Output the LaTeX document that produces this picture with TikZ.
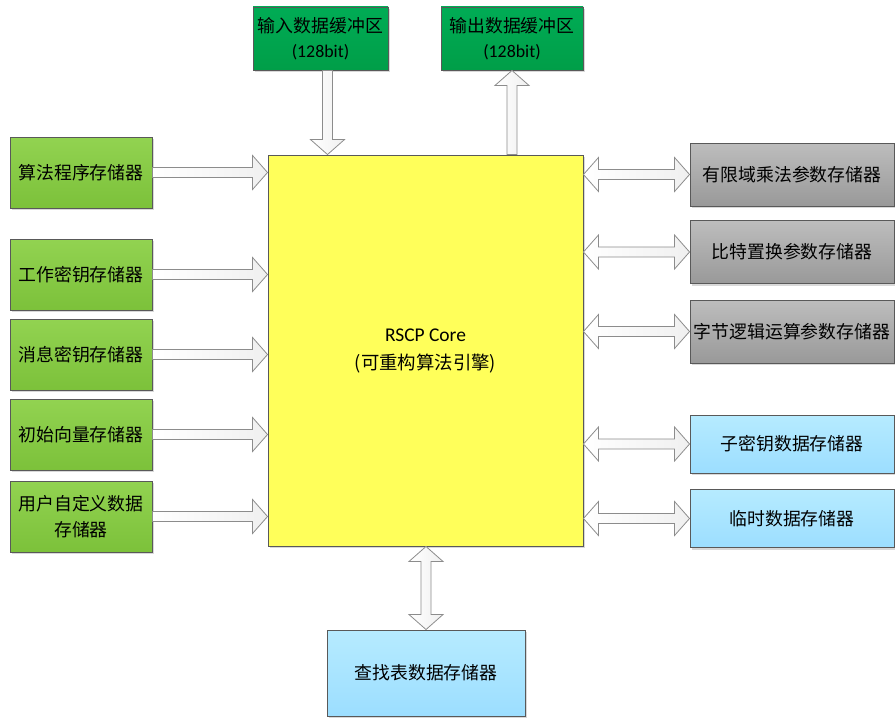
\documentclass[tikz,border=0pt]{standalone}
\usepackage{fontspec}
\setmainfont{Carlito}
\newfontfamily\cjk{Noto Sans CJK SC}
\usepackage{tikz}
\usetikzlibrary{calc,shadows}

\definecolor{dgreenT}{HTML}{00AC55}
\definecolor{dgreenB}{HTML}{009E48}
\definecolor{lgreenT}{HTML}{92D351}
\definecolor{lgreenB}{HTML}{7CC13A}
\definecolor{greyT}{HTML}{BDBDBD}
\definecolor{greyB}{HTML}{999999}
\definecolor{blueT}{HTML}{B6EBFF}
\definecolor{blueB}{HTML}{9CDEFF}
\definecolor{coreY}{HTML}{FFFF5A}

% block arrow sizes
\def\sw{3.75pt}
\def\hw{12.75pt}
\def\hl{11.25pt}

% right arrow: start #1, x of tip from #2
\newcommand{\arrR}[2]{\draw[blkarrow] let \p1=(#1), \p2=(#2) in
  (\x1,\y1+\sw) -- (\x2-\hl,\y1+\sw) -- (\x2-\hl,\y1+\hw) -- (\x2,\y1)
  -- (\x2-\hl,\y1-\hw) -- (\x2-\hl,\y1-\sw) -- (\x1,\y1-\sw) -- cycle;}
% down arrow: start #1, y of tip from #2
\newcommand{\arrD}[2]{\draw[blkarrow] let \p1=(#1), \p2=(#2) in
  (\x1+\sw,\y1) -- (\x1+\sw,\y2+\hl) -- (\x1+\hw,\y2+\hl) -- (\x1,\y2)
  -- (\x1-\hw,\y2+\hl) -- (\x1-\sw,\y2+\hl) -- (\x1-\sw,\y1) -- cycle;}
% up arrow: tip #1, y of tail from #2
\newcommand{\arrU}[2]{\draw[blkarrow] let \p1=(#1), \p2=(#2) in
  (\x1+\sw,\y2) -- (\x1+\sw,\y1-\hl) -- (\x1+\hw,\y1-\hl) -- (\x1,\y1)
  -- (\x1-\hw,\y1-\hl) -- (\x1-\sw,\y1-\hl) -- (\x1-\sw,\y2) -- cycle;}
% two-headed horizontal: left tip #1, x of right tip from #2
\newcommand{\arrLR}[2]{\draw[blkarrow] let \p1=(#1), \p2=(#2) in
  (\x1,\y1) -- (\x1+\hl,\y1+\hw) -- (\x1+\hl,\y1+\sw) -- (\x2-\hl,\y1+\sw)
  -- (\x2-\hl,\y1+\hw) -- (\x2,\y1) -- (\x2-\hl,\y1-\hw) -- (\x2-\hl,\y1-\sw)
  -- (\x1+\hl,\y1-\sw) -- (\x1+\hl,\y1-\hw) -- cycle;}
% two-headed vertical: top tip #1, y of bottom tip from #2
\newcommand{\arrUD}[2]{\draw[blkarrow] let \p1=(#1), \p2=(#2) in
  (\x1,\y1) -- (\x1+\hw,\y1-\hl) -- (\x1+\sw,\y1-\hl) -- (\x1+\sw,\y2+\hl)
  -- (\x1+\hw,\y2+\hl) -- (\x1,\y2) -- (\x1-\hw,\y2+\hl) -- (\x1-\sw,\y2+\hl)
  -- (\x1-\sw,\y1-\hl) -- (\x1-\hw,\y1-\hl) -- cycle;}

\tikzset{
  box/.style={draw=black!65, line width=0.7pt, inner sep=0pt, align=center,
    font=\cjk\fontsize{13.4}{19}\selectfont,
    drop shadow={shadow xshift=1.5pt, shadow yshift=-1.5pt, fill=black!30, opacity=0.5}},
  bufbox/.style={box, top color=dgreenT, bottom color=dgreenB,
    minimum width=101.25pt, minimum height=47.25pt},
  memL/.style={box, top color=lgreenT, bottom color=lgreenB,
    minimum width=106.5pt, minimum height=53.25pt},
  memG/.style={box, top color=greyT, bottom color=greyB,
    minimum width=153pt, minimum height=47.25pt},
  memB/.style={box, top color=blueT, bottom color=blueB,
    minimum width=153pt, minimum height=43.5pt},
  corebox/.style={box, fill=coreY, minimum width=236.25pt, minimum height=293.25pt,
    font=\cjk\fontsize{13.8}{21}\selectfont},
  blkarrow/.style={draw=black!45, line width=0.6pt, left color=white, right color=black!6}
}

\begin{document}
\begin{tikzpicture}[x=0.75pt, y=-0.75pt]
  \useasboundingbox (0,0) rectangle (895,717);

  % buffers
  \node[bufbox] (inbuf) at (320.5,38.5) {输入数据缓冲区\\{\rmfamily (128bit)}};
  \node[bufbox, minimum width=106.5pt] (outbuf) at (512,38.5) {输出数据缓冲区\\{\rmfamily (128bit)}};

  % engine
  \node[corebox] (core) at (425.5,350.5) {{\rmfamily\fontsize{14.6}{21}\selectfont RSCP Core}\\(可重构算法引擎)};

  % left memories
  \node[memL] (prog) at (81,172.5) {算法程序存储器};
  \node[memL] (wkey) at (81,274.5) {工作密钥存储器};
  \node[memL] (mkey) at (81,354.5) {消息密钥存储器};
  \node[memL] (iv)   at (81,434.5) {初始向量存储器};
  \node[memL] (user) at (81,516.5) {用户自定义数据\\存储器};

  % right memories
  \node[memG] (gfmul) at (792,174.5) {有限域乘法参数存储器};
  \node[memG] (bperm) at (792,252)   {比特置换参数存储器};
  \node[memG] (blog)  at (792,331.5) {字节逻辑运算参数存储器};
  \node[memB] (skey)  at (792,444)   {子密钥数据存储器};
  \node[memB] (tmp)   at (792,518.5) {临时数据存储器};

  % lookup tables
  \node[memB, minimum width=148.5pt, minimum height=64.5pt] (lut) at (426,673) {查找表数据存储器};

  % connections
  \arrD{$(inbuf.south)+(7,0)$}{core.north}
  \arrU{outbuf.south}{core.north}
  \foreach \m in {prog,wkey,mkey,iv,user}
    \arrR{\m.east}{core.west};
  \foreach \m in {gfmul,bperm,blog,skey,tmp}
    \arrLR{core.east |- \m.west}{\m.west};
  \arrUD{core.south -| lut.north}{lut.north}
\end{tikzpicture}
\end{document}
